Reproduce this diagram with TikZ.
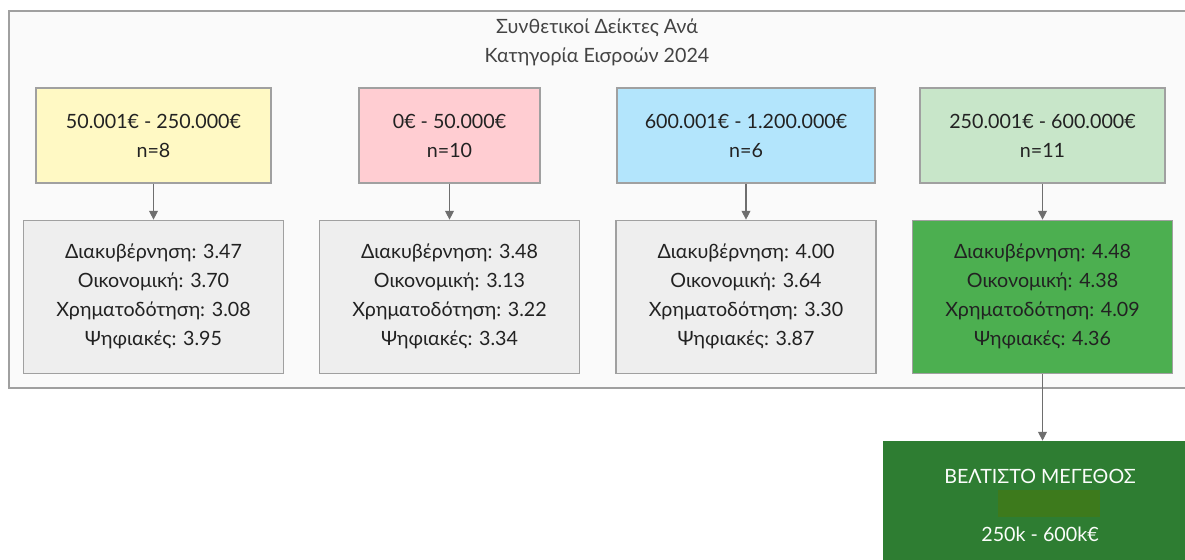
\documentclass[tikz,border=0pt]{standalone}
\usepackage{fontspec}
\setmainfont{Lato}
\usepackage{tikz}
\usetikzlibrary{positioning,calc,arrows.meta}
\usepackage{xcolor}
\definecolor{frameg}{HTML}{FAFAFA}
\definecolor{lineg}{HTML}{A0A0A0}
\definecolor{arrg}{HTML}{6E6E6E}
\definecolor{yel}{HTML}{FFF9C4}
\definecolor{pnk}{HTML}{FFCDD2}
\definecolor{blu}{HTML}{B3E5FC}
\definecolor{lgr}{HTML}{C8E6C9}
\definecolor{gry}{HTML}{EEEEEE}
\definecolor{mgr}{HTML}{4CAF50}
\definecolor{dgr}{HTML}{2E7D32}
\definecolor{olv}{HTML}{3D7A1C}
\definecolor{txt}{HTML}{222222}

\begin{document}
\begin{tikzpicture}[x=0.02cm,y=-0.02cm,
  every node/.style={font=\fontsize{11.2}{16.5}\selectfont,text=txt,align=center},
  grp/.style={draw=lineg,line width=0.7pt,rectangle,minimum height=1.9cm},
  res/.style={draw=lineg,line width=0.7pt,rectangle,minimum height=3.06cm,minimum width=5.2cm,fill=gry},
  arr/.style={draw=arrg,line width=0.6pt,-{Triangle[width=5pt,length=5pt]}}]
\clip (0,0) rectangle (1185,559);
\fill[white] (0,0) rectangle (1185,559);
\draw[lineg,fill=frameg,line width=0.8pt] (9,11) rectangle (1210,388);
\node[text=txt!85](title) at (597,42) {Συνθετικοί Δείκτες Ανά\\Κατηγορία Εισροών 2024};
% income groups
\node[grp,fill=yel,minimum width=4.7cm](g_1) at (153.5,135.5) {50.001€ - 250.000€\\n=8};
\node[grp,fill=pnk,minimum width=3.62cm](g_2) at (449.5,135.5) {0€ - 50.000€\\n=10};
\node[grp,fill=blu,minimum width=5.16cm](g_3) at (746,135.5) {600.001€ - 1.200.000€\\n=6};
\node[grp,fill=lgr,minimum width=4.9cm](g_4) at (1042.5,135.5) {250.001€ - 600.000€\\n=11};
% indices
\node[res](s_1) at (153.5,296.75) {Διακυβέρνηση: 3.47\\Οικονομική: 3.70\\Χρηματοδότηση: 3.08\\Ψηφιακές: 3.95};
\node[res](s_2) at (449.5,296.75) {Διακυβέρνηση: 3.48\\Οικονομική: 3.13\\Χρηματοδότηση: 3.22\\Ψηφιακές: 3.34};
\node[res](s_3) at (746,296.75) {Διακυβέρνηση: 4.00\\Οικονομική: 3.64\\Χρηματοδότηση: 3.30\\Ψηφιακές: 3.87};
\node[res,fill=mgr](s_4) at (1042.5,296.75) {Διακυβέρνηση: 4.48\\Οικονομική: 4.38\\Χρηματοδότηση: 4.09\\Ψηφιακές: 4.36};
% best
\node[rectangle,fill=dgr,draw=dgr,minimum width=6.28cm,minimum height=2.52cm](best) at (1040,504) {};
\node[rectangle,fill=olv,minimum width=2.04cm,minimum height=0.54cm,inner sep=0pt](gap) at (1049,503.5) {};
\node[text=white!92!lgr](b_1) at (1040,476) {ΒΕΛΤΙΣΤΟ ΜΕΓΕΘΟΣ};
\node[text=white!92!lgr](b_2) at (1040,534) {250k - 600k€};
\foreach \i in {1,...,4}
  \draw[arr] (g_\i) -- (s_\i);
\draw[arr] (s_4) -- (s_4|-best.north);
\end{tikzpicture}
\end{document}
